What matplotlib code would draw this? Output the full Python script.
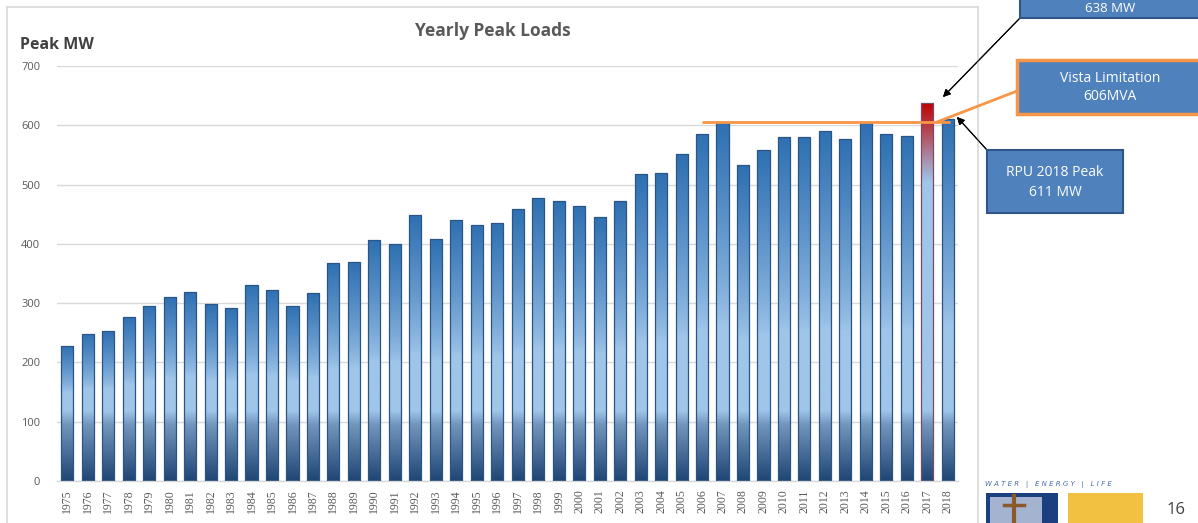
import numpy as np
import matplotlib
matplotlib.use("Agg")
import matplotlib.pyplot as plt
from matplotlib.patches import Rectangle
from matplotlib.colors import to_rgb

# data
years = list(range(1975, 2019))
peak_mw = [228, 248, 253, 277, 296, 311, 319, 298, 291, 331,
           323, 296, 317, 367, 370, 406, 399, 448, 408, 441,
           432, 436, 459, 478, 473, 464, 446, 473, 517, 519,
           551, 586, 605, 533, 559, 580, 581, 591, 577, 605,
           585, 582, 638, 611]
highlight_year = 2017
vista_limit = 606
yticks = [0, 100, 200, 300, 400, 500, 600, 700]

W, H = 1198, 523

def px(x, y):
    # pixel position (from top-left) -> figure fraction
    return x / W, 1 - y / H

dark_top = np.array(to_rgb("#2f70b2"))
light = np.array(to_rgb("#9fc5e9"))
mid_low = np.array(to_rgb("#7396bd"))
dark_bot = np.array(to_rgb("#1f4573"))
red = np.array(to_rgb("#c00000"))

def bar_gradient(h, red_top=False, n=300):
    v = np.linspace(0, h, n)
    out = np.zeros((n, 3))
    light_top = 115 + 0.3 * (h - 115)
    for i, val in enumerate(v):
        if val < 95:
            t = val / 95
            c = dark_bot * (1 - t) + mid_low * t
        elif val < 118:
            t = (val - 95) / 23
            c = mid_low * (1 - t) + light * t
        elif red_top and val > 505:
            t = (val - 505) / (h - 505)
            c = light * (1 - t) + red * t
        elif red_top or val <= light_top:
            c = light
        else:
            t = (val - light_top) / (h - light_top)
            c = light * (1 - t ** 0.8) + dark_top * t ** 0.8
        out[i] = c
    return out[::-1][:, None, :]

fig = plt.figure(figsize=(W / 100, H / 100), dpi=100)
ax = fig.add_axes([57 / W, 42 / H, (958 - 57) / W, (481 - 66) / H])

x = np.arange(len(years))
width = 0.59
bars = ax.bar(x, peak_mw, width=width, facecolor="none", edgecolor="#2a5587",
              linewidth=0.9, zorder=3)
for xi, h, yr, b in zip(x, peak_mw, years, bars):
    img = bar_gradient(h, red_top=(yr == highlight_year))
    im = ax.imshow(img, extent=[xi - width / 2, xi + width / 2, 0, h],
                   aspect="auto", zorder=2, interpolation="bilinear")
    im.set_clip_path(b)
    if yr == highlight_year:
        b.set_edgecolor("#7a4a6a")

ax.set_xlim(-0.5, len(years) - 0.5)
ax.set_ylim(0, 700)
ax.set_yticks(yticks)
ax.set_yticklabels([str(t) for t in yticks], fontsize=8, color="#595959",
                   family="Open Sans")
ax.set_xticks(x)
ax.set_xticklabels([str(y) for y in years], rotation=90, fontsize=8.5,
                   color="#595959", family="Liberation Serif")
ax.tick_params(length=0, axis="y", pad=12)
ax.tick_params(length=0, axis="x", pad=6)
ax.grid(axis="y", color="#d9d9d9", linewidth=1, zorder=0)
ax.set_axisbelow(True)
for s in ["top", "right", "left"]:
    ax.spines[s].set_visible(False)
ax.spines["bottom"].set_color("#d9d9d9")
ax.spines["bottom"].set_linewidth(1)

# vista limitation line
ax.plot([31, 43.1], [vista_limit, vista_limit], color="#f79646", lw=2,
        zorder=5, solid_capstyle="butt", clip_on=False)

# chart frame
frame = dict(color="#d9d9d9", lw=1.2, transform=fig.transFigure)
fig.add_artist(plt.Line2D([7 / W, 7 / W], [px(0, 7)[1], 0], **frame))
fig.add_artist(plt.Line2D([7 / W, 978 / W], [px(0, 7)[1]] * 2, **frame))
fig.add_artist(plt.Line2D([978 / W, 978 / W], [px(0, 7)[1], 0], **frame))

fig.text(*px(493, 31), "Yearly Peak Loads", ha="center", va="center",
         fontsize=12.5, fontweight="bold", color="#595959", family="Open Sans")
fig.text(*px(20, 45), "Peak MW", ha="left", va="center", fontsize=11.5,
         fontweight="bold", color="#404040", family="Open Sans")

# orange connector to vista box
fig.add_artist(plt.Line2D([937 / W, 1017 / W], [px(0, 122)[1], px(0, 91)[1]],
                          color="#f79646", lw=2, transform=fig.transFigure))

def box(x0, y0, x1, y1, edge, lw):
    r = Rectangle(px(x0, y1), (x1 - x0) / W, (y1 - y0) / H,
                  facecolor="#4f81bd", edgecolor=edge, linewidth=lw,
                  transform=fig.transFigure, clip_on=False, zorder=10)
    fig.add_artist(r)

box(1020, -30, 1210, 18, "#2e5489", 1.5)
fig.text(*px(1110, 8), "638 MW", ha="center", va="center", fontsize=9.5,
         color="white", family="Open Sans", zorder=11)
box(1017, 60, 1210, 114, "#f79646", 2.5)
fig.text(*px(1110, 78), "Vista Limitation", ha="center", va="center",
         fontsize=10, color="white", family="Open Sans", zorder=11)
fig.text(*px(1110, 97), "606MVA", ha="center", va="center",
         fontsize=10, color="white", family="Open Sans", zorder=11)
box(987, 150, 1123, 213, "#2e5489", 1.5)
fig.text(*px(1055, 172), "RPU 2018 Peak", ha="center", va="center",
         fontsize=10, color="white", family="Open Sans", zorder=11)
fig.text(*px(1055, 192), "611 MW", ha="center", va="center",
         fontsize=10, color="white", family="Open Sans", zorder=11)

arrow = dict(arrowstyle="-|>", color="black", lw=0.8, mutation_scale=11,
             shrinkA=0, shrinkB=0)
fig.add_artist(plt.annotate("", xy=px(943, 97), xytext=px(1020, 18),
                            xycoords="figure fraction",
                            textcoords="figure fraction", arrowprops=arrow))
fig.add_artist(plt.annotate("", xy=px(957, 117), xytext=px(987, 150),
                            xycoords="figure fraction",
                            textcoords="figure fraction", arrowprops=arrow))

# footer logo bits
fig.text(*px(985, 485), "W A T E R   |   E N E R G Y   |   L I F E",
         ha="left", va="center", fontsize=5, color="#4a6fa5",
         fontstyle="italic", family="DejaVu Sans")
fig.add_artist(Rectangle(px(986, 530), 72 / W, 37 / H, facecolor="#1c3f7e",
                         edgecolor="none", transform=fig.transFigure))
fig.add_artist(Rectangle(px(990, 530), 52 / W, 33 / H, facecolor="#a4b3cf",
                         edgecolor="none", transform=fig.transFigure))
fig.add_artist(plt.Line2D([1014 / W, 1014 / W], [px(0, 496)[1], 0],
                          color="#8a5a2a", lw=3, transform=fig.transFigure))
fig.add_artist(plt.Line2D([1004 / W, 1024 / W], [px(0, 505)[1]] * 2,
                          color="#8a5a2a", lw=2.5, transform=fig.transFigure))
fig.add_artist(Rectangle(px(1068, 530), 75 / W, 37 / H, facecolor="#f2c142",
                         edgecolor="none", transform=fig.transFigure))
fig.text(*px(1176, 510), "16", ha="center", va="center", fontsize=12,
         color="#404040", family="Open Sans")

fig.savefig("out.png", dpi=100)
